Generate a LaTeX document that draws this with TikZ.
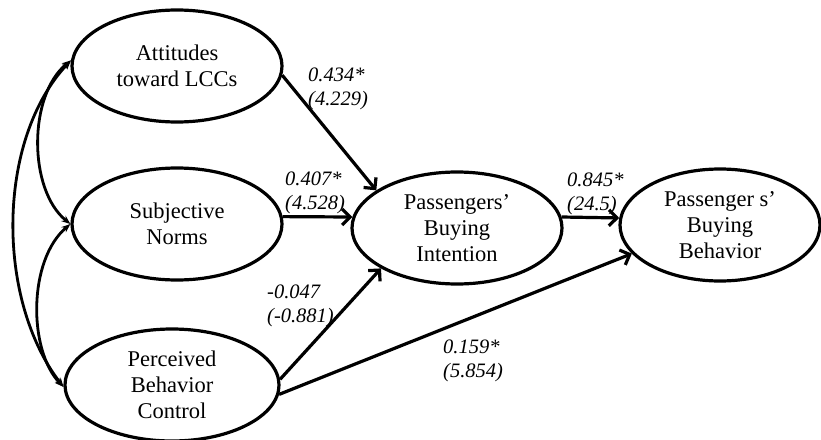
\documentclass[tikz,border=0pt]{standalone}
\usepackage{fontspec}
\setmainfont{Liberation Serif}
\usetikzlibrary{shapes.geometric,arrows.meta}
\begin{document}
\begin{tikzpicture}[x=1pt,y=-1pt,
  construct/.style={ellipse,draw,line width=3.2pt,inner sep=0pt,align=center,
    font=\fontsize{22.5}{26}\selectfont},
  effect/.style={line width=3.2pt,-{Straight Barb[length=8pt,width=16pt]}},
  cov/.style={line width=2.8pt,{Stealth[length=9pt,width=7pt]}-{Stealth[length=9pt,width=7pt]}},
  coef/.style={font=\fontsize{20.5}{24}\selectfont\itshape,align=left,anchor=west,inner sep=0pt}]
\useasboundingbox (0,0) rectangle (821,439);
\node[construct,minimum width=210pt,minimum height=112pt] (att) at (177,66) {Attitudes\\toward LCCs};
\node[construct,minimum width=210pt,minimum height=112pt] (sub) at (177,224) {Subjective\\Norms};
\node[construct,minimum width=214pt,minimum height=112pt] (per) at (172,385) {Perceived\\Behavior\\Control};
\node[construct,minimum width=210pt,minimum height=112pt] (int) at (457,228) {Passengers'\\Buying\\Intention};
\node[construct,minimum width=200pt,minimum height=112pt] (beh) at (720,225) {Passenger s'\\Buying\\Behavior};

\draw[effect] (att.-5) -- (int.155);
\draw[effect] (sub.4) -- (int.174);
\draw[effect] (per.3) -- (int.208);
\draw[effect] (per.-5) -- (beh.198);
\draw[effect] (int.6) -- (beh.176);

\draw[cov] (att.177) .. controls (28,95) and (28,190) .. (sub.180);
\draw[cov] (sub.180) .. controls (28,260) and (28,350) .. (per.181);
\draw[cov] (att.177) .. controls (-4,140) and (-4,300) .. (per.181);

\node[coef] (l1) at (308,89) {0.434*\\(4.229)};
\node[coef] (l2) at (285,193) {0.407*\\(4.528)};
\node[coef] (l3) at (267,306) {-0.047\\(-0.881)};
\node[coef] (l4) at (567,194) {0.845*\\(24.5)};
\node[coef] (l5) at (443,361) {0.159*\\(5.854)};
\end{tikzpicture}
\end{document}
